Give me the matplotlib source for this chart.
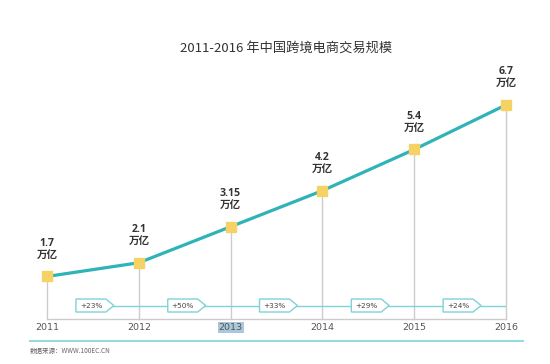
import matplotlib
matplotlib.use("Agg")
import matplotlib.pyplot as plt
from matplotlib.patches import Polygon
from matplotlib.lines import Line2D

plt.rcParams['font.family'] = ['Noto Sans CJK SC', 'DejaVu Sans']

years = [2011, 2012, 2013, 2014, 2015, 2016]
values = [1.7, 2.1, 3.15, 4.2, 5.4, 6.7]
value_labels = ["1.7", "2.1", "3.15", "4.2", "5.4", "6.7"]
unit = "万亿"
growth = ["+23%", "+50%", "+33%", "+29%", "+24%"]
title = "2011-2016 年中国跨境电商交易规模"
source = "数据来源：WWW.100EC.CN"

W, H = 550, 364
fig = plt.figure(figsize=(W / 100, H / 100), dpi=100)
fig.patch.set_facecolor("white")

ax_left, ax_right = 47 / W, 506 / W
ax_bottom, ax_top = (H - 319) / H, (H - 80) / H
ax = fig.add_axes([ax_left, ax_bottom, ax_right - ax_left, ax_top - ax_bottom])
ymin, ymax = 0.461, 7.425
ax.set_xlim(2011, 2016)
ax.set_ylim(ymin, ymax)
for s in ax.spines.values():
    s.set_visible(False)
ax.set_yticks([])
ax.set_xticks(years)
ax.set_xticklabels([str(y) for y in years], fontsize=6.8, color="#555555",
                   family=["DejaVu Sans"])
ax.tick_params(axis="x", length=0, pad=3)
for lab in ax.get_xticklabels():
    if lab.get_text() == "2013":
        lab.set_bbox(dict(facecolor="#a9c8dc", edgecolor="none", pad=0.6))

px_x = 92.0   # pixels per year
px_y = 34.32  # pixels per unit

# gray baseline and vertical drop lines
ax.plot([years[0], years[-1]], [ymin, ymin], color="#cccccc", lw=1.0, zorder=1, clip_on=False)
for x, v in zip(years, values):
    ax.plot([x, x], [ymin, v], color="#cccccc", lw=1.0, zorder=1, clip_on=False)

# main line
ax.plot(years, values, color="#2eb3b8", lw=2.3, zorder=3, solid_capstyle="round", clip_on=False)
ax.plot(years, values, linestyle="none", marker="s", markersize=6.5,
        markerfacecolor="#f6d264", markeredgecolor="#f6d264", zorder=4, clip_on=False)

# value labels
for x, v, t in zip(years, values, value_labels):
    ax.annotate(unit, (x, v), xytext=(0, 12), textcoords="offset points",
                ha="center", va="bottom", fontsize=7.6, fontweight="semibold",
                color="#333333", zorder=5)
    ax.annotate(t, (x, v), xytext=(0, 20), textcoords="offset points",
                ha="center", va="bottom", fontsize=7.6, fontweight="bold",
                color="#333333", zorder=5, family=["Open Sans", "DejaVu Sans"])

# growth arrows
yc = 0.854
hh = 6.5 / px_y
mids = [(a + b) / 2 for a, b in zip(years[:-1], years[1:])]
ax.plot([mids[0] - 17 / px_x, years[-1]], [yc, yc], color="#7fd3d8", lw=1.0, zorder=2)
for m, g in zip(mids, growth):
    l = m - 17 / px_x
    r = m + 13 / px_x
    tip = m + 21 / px_x
    poly = Polygon([(l, yc - hh), (r, yc - hh), (tip, yc), (r, yc + hh), (l, yc + hh)],
                   closed=True, facecolor="white", edgecolor="#7fd3d8", lw=1.0, zorder=3)
    ax.add_patch(poly)
    ax.text(m - 2 / px_x, yc, g, ha="center", va="center", fontsize=5.2,
            color="#444444", zorder=4, family=["DejaVu Sans"])

# title
fig.text(286 / W, 1 - 48 / H, title, ha="center", va="center", fontsize=9.5, color="#333333")

# bottom teal rule
fig.add_artist(Line2D([30 / W, 523 / W], [1 - 341 / H, 1 - 341 / H], color="#91dade", lw=1.4))
fig.text(30 / W, 1 - 351 / H, source, ha="left", va="center", fontsize=4.7, color="#666666")

fig.savefig("out.png", dpi=100, facecolor="white")
